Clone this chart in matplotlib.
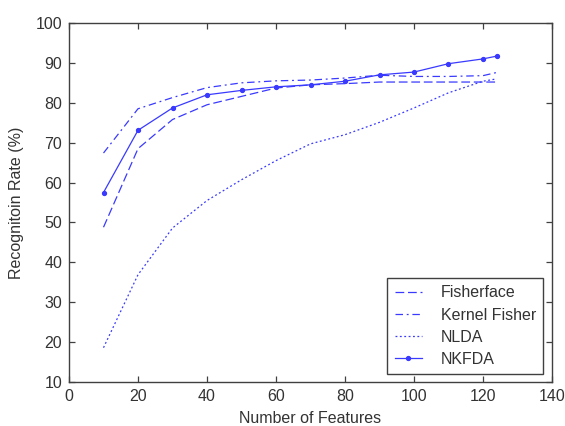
import matplotlib.pyplot as plt
import numpy as np

plt.rcParams['font.family'] = ['Liberation Sans', 'DejaVu Sans']

# 特征数
features = [10, 20, 30, 40, 50, 60, 70, 80, 90, 100, 110, 120, 124]

# 各方法识别率 (%)
fisherface = [48.8, 68.5, 75.8, 79.5, 81.6, 83.7, 84.5, 84.8, 85.2, 85.2, 85.2, 85.2, 85.2]
kernel_fisher = [67.4, 78.5, 81.3, 83.8, 85.0, 85.5, 85.7, 86.2, 86.9, 86.6, 86.6, 86.8, 87.6]
nlda = [18.6, 36.9, 48.6, 55.5, 60.7, 65.5, 69.7, 72.0, 75.1, 78.7, 82.5, 85.4, 86.0]
nkfda = [57.5, 73.1, 78.7, 82.0, 83.1, 84.0, 84.5, 85.4, 87.0, 87.7, 89.8, 91.0, 91.7]

blue = '#3a3aff'
frame = '#404040'
txt = '#333333'
fs = 11.5

fig = plt.figure(figsize=(5.65, 4.26), dpi=100)
ax = fig.add_axes([69/565, 1 - 382/426, (552-69)/565, (382-23)/426])

ax.plot(features, fisherface, color=blue, lw=0.9, linestyle=(0, (7, 3)), label='Fisherface')
ax.plot(features, kernel_fisher, color=blue, lw=0.9, linestyle=(0, (6, 3, 1.5, 3)), label='Kernel Fisher')
ax.plot(features, nlda, color=blue, lw=0.9, linestyle=(0, (1.5, 2)), label='NLDA')
ax.plot(features, nkfda, color=blue, lw=0.9, marker='o', markersize=2.8, label='NKFDA')

ax.set_xlim(0, 140)
ax.set_ylim(10, 100)
ax.set_xticks(np.arange(0, 141, 20))
ax.set_yticks(np.arange(10, 101, 10))

for s in ax.spines.values():
    s.set_color(frame)
    s.set_linewidth(1.0)
ax.tick_params(direction='in', top=True, right=True, length=4, width=0.9,
               color=frame, labelcolor=txt, labelsize=fs, pad=5)

ax.set_xlabel('Number of Features', fontsize=fs, color=txt, labelpad=5)
ax.set_ylabel('Recognitoin Rate (%)', fontsize=fs, color=txt, labelpad=8)

leg = ax.legend(loc='lower right', fontsize=fs, fancybox=False, framealpha=1,
                edgecolor=frame, borderpad=0.45, handlelength=1.7,
                handletextpad=1.2, labelspacing=0.45,
                bbox_to_anchor=(0.982, 0.022), borderaxespad=0)
leg.get_frame().set_linewidth(1.0)
for t in leg.get_texts():
    t.set_color(txt)

fig.savefig('out.png', dpi=100)
